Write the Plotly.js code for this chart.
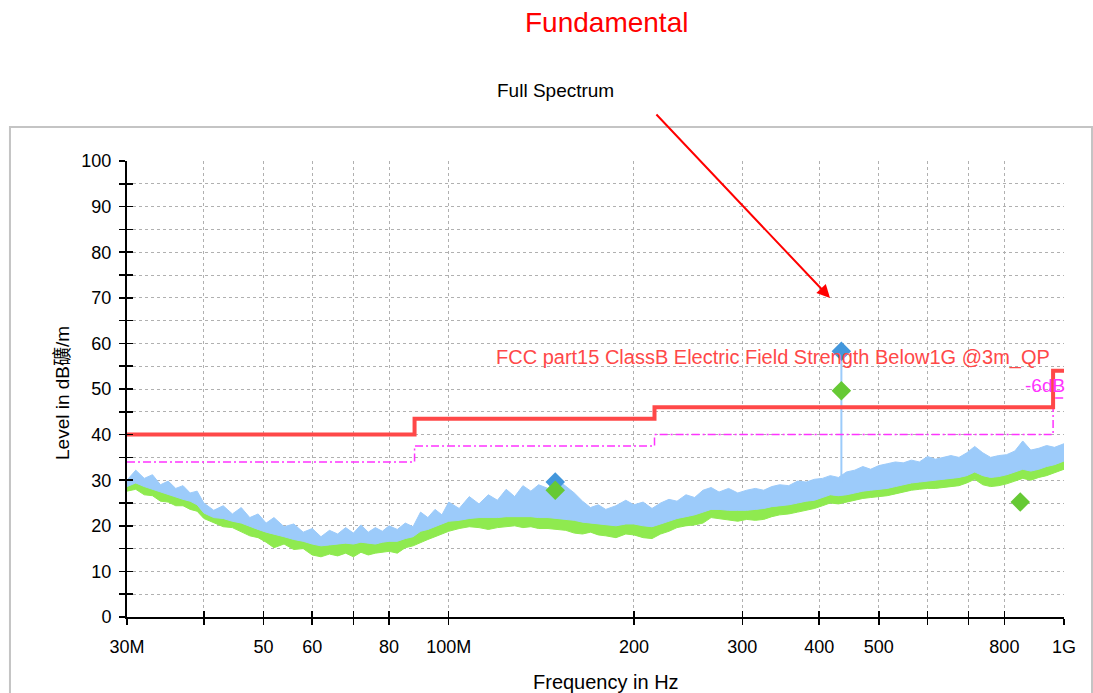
<!DOCTYPE html>
<html>
<head>
<meta charset="utf-8">
<script src="https://cdn.plot.ly/plotly-3.0.1.min.js"></script>
<style>html,body{margin:0;padding:0;background:#fff;}#chart{width:1093px;height:693px;}</style>
</head>
<body>
<div id="chart"></div>
<script>
// ---- data (frequency in MHz, level in dBµV/m) ----
const freqMHz = [
  30,31,32,33,34,35,36,37,38,39,40,
  41.5,43,44.5,46,47.5,49,50.5,52,
  54,56,58,60,62,64,66,68,70,72,74,76,78,80,
  82.5,85,87.5,90,92.5,95,97.5,100,
  104,108,112,116,120,124,128,132,136,140,
  145,150,155,160,165,170,175,180,
  187,194,200,207,214,221,228,235,243,251,259,267,275,
  285,295,305,315,325,335,345,
  357,369,381,393,405,417,430,443,457,471,485,500,
  516,532,548,565,582,600,618,636,655,675,695,716,738,760,783,807,832,857,883,910,937,965,1000];
const peakHigh = [
  30.0,32.2,30.4,31.2,29.0,29.8,28.2,28.8,27.2,27.6,25.0,
  23.4,24.4,22.6,24.0,21.8,22.6,20.6,21.8,
  19.8,20.4,18.6,19.4,17.6,19.0,18.2,19.6,18.4,20.2,18.6,19.6,18.8,20.0,
  19.2,20.6,19.8,23.0,21.8,23.6,22.4,25.2,
  23.8,26.4,24.8,26.8,25.6,28.0,26.4,28.8,27.6,29.0,
  28.2,30.2,28.6,27.2,25.4,24.0,24.6,23.6,
  24.4,25.6,24.6,25.2,23.8,25.0,25.8,25.4,26.8,26.2,27.8,28.4,27.4,
  28.2,27.2,27.8,28.2,27.8,28.6,29.0,
  28.8,29.8,29.6,30.2,30.4,31.0,30.6,31.8,32.2,33.0,32.4,33.2,
  33.6,34.0,33.8,34.4,34.0,35.2,34.6,35.0,35.4,35.0,36.0,37.4,36.0,35.0,35.4,35.6,36.4,38.6,36.6,37.0,37.6,37.2,38.0];
const peakLow = [
  28.6,29.4,28.6,28.0,27.4,26.8,26.2,25.8,25.4,24.6,22.8,
  21.8,21.6,21.0,20.6,19.8,19.2,18.6,18.2,
  17.6,17.0,16.6,16.0,15.6,15.8,16.0,16.2,16.0,16.4,16.2,16.0,16.4,16.6,
  16.6,17.2,17.6,18.8,19.2,19.8,20.4,21.0,
  21.2,21.6,21.8,21.8,21.8,22.0,22.0,22.0,22.0,21.8,
  21.8,21.6,21.4,21.2,20.8,20.6,20.4,20.2,
  20.0,20.4,20.4,20.0,19.8,20.4,21.0,21.6,22.0,22.4,23.0,23.6,23.6,
  23.4,23.4,23.4,23.6,23.8,24.2,24.4,
  24.6,25.0,25.4,25.6,26.2,26.8,26.6,26.8,27.2,27.6,27.8,28.0,
  28.2,28.6,29.0,29.4,29.6,29.8,30.0,30.2,30.4,30.6,31.0,31.8,31.0,30.6,30.8,31.2,31.8,32.4,32.0,32.4,33.0,33.4,34.2];
const avgLow = [
  27.6,28.0,26.8,26.6,25.4,25.2,24.4,24.4,23.6,23.2,21.6,
  20.6,19.8,19.6,18.6,17.8,17.4,16.4,15.2,
  16.0,14.8,15.0,13.6,13.2,13.8,13.4,14.0,13.2,14.2,13.6,14.0,14.2,14.4,
  14.0,15.2,15.6,16.4,17.0,17.6,18.2,18.8,
  19.4,19.8,19.6,19.2,19.6,19.8,20.0,19.6,19.8,19.4,
  19.4,19.2,19.0,18.4,18.2,18.6,18.0,17.8,
  17.4,18.2,18.0,17.4,17.2,18.2,18.8,19.6,20.0,20.2,20.6,21.8,21.6,
  21.2,21.0,21.4,21.2,21.4,22.0,22.4,
  22.6,23.0,23.4,23.8,24.4,25.0,24.8,25.2,25.6,26.0,26.2,26.4,
  26.6,27.0,27.4,27.8,28.0,28.2,28.2,28.4,28.6,28.8,29.4,30.2,29.0,28.6,28.8,29.2,29.8,30.4,30.0,30.6,31.0,31.6,32.4];

const fundFreq = [434.7, 434.7];
const fundLevel = [29.5, 58.3];

const peakMarkFreq = [149, 434.7];
const peakMarkLevel = [29.6, 58.3];
const avgMarkFreq = [149, 434.7, 849];
const avgMarkLevel = [27.8, 49.6, 25.2];

const limitFreq = [30, 88, 216, 960, 1000];
const limitLevel = [40, 43.5, 46, 54, 54];
const marginLevel = [34, 37.5, 40, 48, 48];

const xTickVals = [30,40,50,60,70,80,100,200,300,400,500,600,700,800,1000];
const xTickText = ['30M','','50','60','','80','100M','200','300','400','500','','','800','1G'];
const yTickVals = [0,5,10,15,20,25,30,35,40,45,50,55,60,65,70,75,80,85,90,95,100];
const yTickText = ['0','','10','','20','','30','','40','','50','','60','','70','','80','','90','','100'];

// ---- styles ----
const F = 'Liberation Sans, Arial, Noto Sans CJK SC, sans-serif';
const BLUE = '#9ccbfa';
const GREEN = '#8fea4f';

const traces = [
  {x: freqMHz, y: avgLow, mode:'lines', line:{color:GREEN, width:1}, hoverinfo:'skip'},
  {x: freqMHz, y: peakLow, mode:'lines', line:{color:GREEN, width:1}, fill:'tonexty', fillcolor:GREEN, hoverinfo:'skip'},
  {x: freqMHz, y: peakLow, mode:'lines', line:{color:BLUE, width:1}, hoverinfo:'skip'},
  {x: freqMHz, y: peakHigh, mode:'lines', line:{color:BLUE, width:1}, fill:'tonexty', fillcolor:BLUE, hoverinfo:'skip'},
  {x: fundFreq, y: fundLevel, mode:'lines', line:{color:BLUE, width:2}},
  {x: limitFreq, y: marginLevel, mode:'lines', line:{color:'#ff33ff', width:1.5, dash:'8px,3px,2px,3px', shape:'hv'}},
  {x: limitFreq, y: limitLevel, mode:'lines', line:{color:'#ff4848', width:4, shape:'hv'}},
  {x: peakMarkFreq, y: peakMarkLevel, mode:'markers', marker:{symbol:'diamond', size:15, color:'#4397dc'}},
  {x: avgMarkFreq, y: avgMarkLevel, mode:'markers', marker:{symbol:'diamond', size:15, color:'#66c934'}},
  // carrier for the overlay axes that draw the inner half of each tick
  {x: [30], y: [-50], xaxis:'x2', yaxis:'y2', mode:'markers', marker:{opacity:0}, hoverinfo:'skip'}
];

const xr = [Math.log10(30), Math.log10(1000)];
const layout = {
  width:1093, height:693,
  margin:{l:127, r:29, t:161, b:76},
  paper_bgcolor:'#fff', plot_bgcolor:'rgba(0,0,0,0)',
  showlegend:false,
  font:{family:F, color:'#000'},
  xaxis:{type:'log', range:xr, tickvals:xTickVals, ticktext:xTickText,
    ticks:'outside', ticklen:6, tickwidth:1.5, tickcolor:'#000', ticklabelstandoff:6,
    showline:true, linecolor:'#000', linewidth:2, mirror:false,
    showgrid:true, gridcolor:'#b0b0b0', griddash:'dot', gridwidth:1, zeroline:false,
    tickfont:{family:F, size:18, color:'#000'}},
  yaxis:{range:[0,100], tickvals:yTickVals, ticktext:yTickText,
    ticks:'outside', ticklen:6, tickwidth:1.5, tickcolor:'#000', ticklabelstandoff:4,
    showline:true, linecolor:'#000', linewidth:2,
    showgrid:true, gridcolor:'#b0b0b0', griddash:'dot', gridwidth:1, zeroline:false,
    tickfont:{family:F, size:18, color:'#000'}},
  xaxis2:{type:'log', range:xr, overlaying:'x', anchor:'y2', side:'bottom', tickvals:xTickVals, showticklabels:false,
    ticks:'inside', ticklen:6, tickwidth:1.5, tickcolor:'#000', showgrid:false, showline:false, zeroline:false},
  yaxis2:{range:[0,100], overlaying:'y', anchor:'x2', side:'left', tickvals:yTickVals, showticklabels:false,
    ticks:'inside', ticklen:6, tickwidth:1.5, tickcolor:'#000', showgrid:false, showline:false, zeroline:false},
  shapes:[
    {type:'rect', xref:'paper', yref:'paper', x0:-0.1249, x1:1.0299, y0:-0.2, y1:1.0746,
     line:{color:'#c4c4c4', width:2}, fillcolor:'rgba(0,0,0,0)', layer:'below'}
  ],
  annotations:[
    {text:'Fundamental', xref:'paper', yref:'paper', x:(606-127)/937, y:(617-22)/456,
     xanchor:'center', yanchor:'middle', showarrow:false, font:{family:F, size:28, color:'#ff0000'}},
    {text:'Full Spectrum', xref:'paper', yref:'paper', x:(555-127)/937, y:(617-90)/456,
     xanchor:'center', yanchor:'middle', showarrow:false, font:{family:F, size:19, color:'#000'}},
    {text:'', xref:'paper', yref:'paper', x:(830-127)/937, y:(617-298)/456,
     ax:-175, ay:-185, showarrow:true, arrowhead:2, arrowsize:1.3, arrowwidth:2, arrowcolor:'#ff0000'},
    {text:'FCC part15 ClassB Electric Field Strength Below1G @3m_QP', xref:'paper', yref:'paper',
     x:(1052-127)/937, y:(617-357)/456, xanchor:'right', yanchor:'middle', showarrow:false,
     font:{family:F, size:20, color:'#ff4848'}},
    {text:'-6dB', xref:'paper', yref:'paper', x:1.003, y:(617-385)/456, xanchor:'right', yanchor:'middle',
     showarrow:false, font:{family:F, size:19, color:'#ff33ff'}},
    {text:'Level in dB礦/m', xref:'paper', yref:'paper', x:(62-127)/937, y:(617-393)/456,
     xanchor:'center', yanchor:'middle', textangle:-90, showarrow:false, font:{family:F, size:19, color:'#000'}},
    {text:'Frequency in Hz', xref:'paper', yref:'paper', x:(606-127)/937, y:(617-682)/456,
     xanchor:'center', yanchor:'middle', showarrow:false, font:{family:F, size:20, color:'#000'}}
  ]
};

Plotly.newPlot('chart', traces, layout, {displayModeBar:false, staticPlot:true});
</script>
</body>
</html>
